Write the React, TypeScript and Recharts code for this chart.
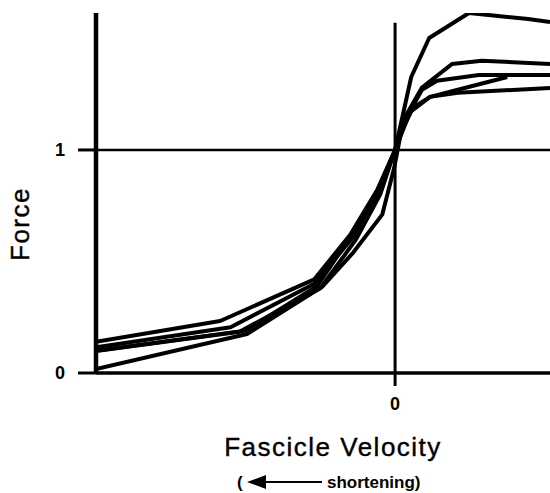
import React from 'react'
import { LineChart, Line, XAxis, YAxis, ReferenceLine, Label } from 'recharts'

// five force-velocity curves, x = fascicle velocity (relative), y = force (relative)
const curve1X = [-1, -0.55, -0.27, -0.14, -0.06, 0, 0.054, 0.114, 0.247, 0.445, 0.518]
const curve1Y = [0.115, 0.205, 0.4, 0.61, 0.81, 1.0, 1.327, 1.502, 1.614, 1.587, 1.574]

const curve2X = [-1, -0.585, -0.27, -0.15, -0.06, 0, 0.03, 0.09, 0.19, 0.29, 0.518]
const curve2Y = [0.14, 0.233, 0.42, 0.62, 0.82, 1.0, 1.14, 1.28, 1.385, 1.4, 1.385]

const curve3X = [-1, -0.5, -0.26, -0.14, -0.05, 0, 0.04, 0.09, 0.14, 0.28, 0.518]
const curve3Y = [0.1, 0.19, 0.39, 0.63, 0.83, 1.0, 1.15, 1.27, 1.31, 1.336, 1.336]

const curve4X = [-1, -0.52, -0.25, -0.13, -0.05, 0, 0.05, 0.117, 0.21, 0.375]
const curve4Y = [0.098, 0.185, 0.38, 0.6, 0.8, 1.0, 1.17, 1.238, 1.27, 1.327]

const curve5X = [-1, -0.495, -0.244, -0.14, -0.043, -0.003, 0.02, 0.06, 0.117, 0.21, 0.518]
const curve5Y = [0.018, 0.175, 0.386, 0.54, 0.71, 0.92, 1.08, 1.19, 1.238, 1.256, 1.278]

const xTicks = [0]
const yTicks = [0, 1]

const toPoints = (xs: number[], ys: number[]) => xs.map((x, i) => ({ x, y: ys[i] }))

const curves = [
  toPoints(curve1X, curve1Y),
  toPoints(curve2X, curve2Y),
  toPoints(curve3X, curve3Y),
  toPoints(curve4X, curve4Y),
  toPoints(curve5X, curve5Y)
]

const FONT = '"Liberation Sans", Arial, sans-serif'

const XTick = (props: any) => (
  <text x={props.x} y={404} textAnchor="middle" dominantBaseline="central"
    fontFamily={FONT} fontWeight="bold" fontSize={18} style={{ fill: '#000' }}>
    {props.payload.value}
  </text>
)

const YTick = (props: any) => (
  <text x={65} y={props.y} textAnchor="end" dominantBaseline="central"
    fontFamily={FONT} fontWeight="bold" fontSize={18} style={{ fill: '#000' }}>
    {props.payload.value}
  </text>
)

const XTitle = () => (
  <g fontFamily={FONT} style={{ fill: '#000' }}>
    <text x={333} y={456} textAnchor="middle" fontSize={26} letterSpacing={1.5}
      stroke="#000" strokeWidth={0.4}>
      Fascicle Velocity
    </text>
    <text x={237} y={488} fontSize={17} fontWeight="bold">(</text>
    <polygon points="247,482 266,475 266,489" fill="#000" />
    <line x1={262} y1={482} x2={322} y2={482} stroke="#000" strokeWidth={2} />
    <text x={327} y={488} fontSize={17} fontWeight="bold">shortening)</text>
  </g>
)

const YTitle = () => (
  <text x={20} y={224} transform="rotate(-90 20 224)" textAnchor="middle"
    dominantBaseline="central" fontFamily={FONT} fontSize={26} letterSpacing={1.5}
    stroke="#000" strokeWidth={0.4} style={{ fill: '#000' }}>
    Force
  </text>
)

export default function App() {
  return (
    <div style={{ position: 'absolute', left: 0, top: 0, background: '#fff' }}>
      <LineChart width={550} height={493} margin={{ top: 13, right: 0, bottom: 0, left: 0 }}>
        <XAxis type="number" dataKey="x" domain={[-1, 0.518]} ticks={xTicks} allowDataOverflow
          height={120} axisLine={{ stroke: '#000', strokeWidth: 3.5 }}
          tickLine={{ stroke: '#000', strokeWidth: 3 }} tickSize={13} tick={<XTick />}>
          <Label content={<XTitle />} />
        </XAxis>
        <YAxis type="number" dataKey="y" domain={[0, 1.614]} ticks={yTicks} allowDataOverflow
          width={96} axisLine={{ stroke: '#000', strokeWidth: 4.5 }}
          tickLine={{ stroke: '#000', strokeWidth: 3 }} tickSize={18} tick={<YTick />}>
          <Label content={<YTitle />} />
        </YAxis>
        <ReferenceLine y={1} stroke="#000" strokeWidth={2.5} />
        <ReferenceLine segment={[{ x: 0, y: 0 }, { x: 0, y: 1.57 }]} stroke="#000" strokeWidth={3} />
        {curves.map((pts, i) => (
          <Line key={i} data={pts} dataKey="y" type="linear" stroke="#000" strokeWidth={4}
            dot={false} isAnimationActive={false} strokeLinejoin="round" />
        ))}
      </LineChart>
    </div>
  )
}
